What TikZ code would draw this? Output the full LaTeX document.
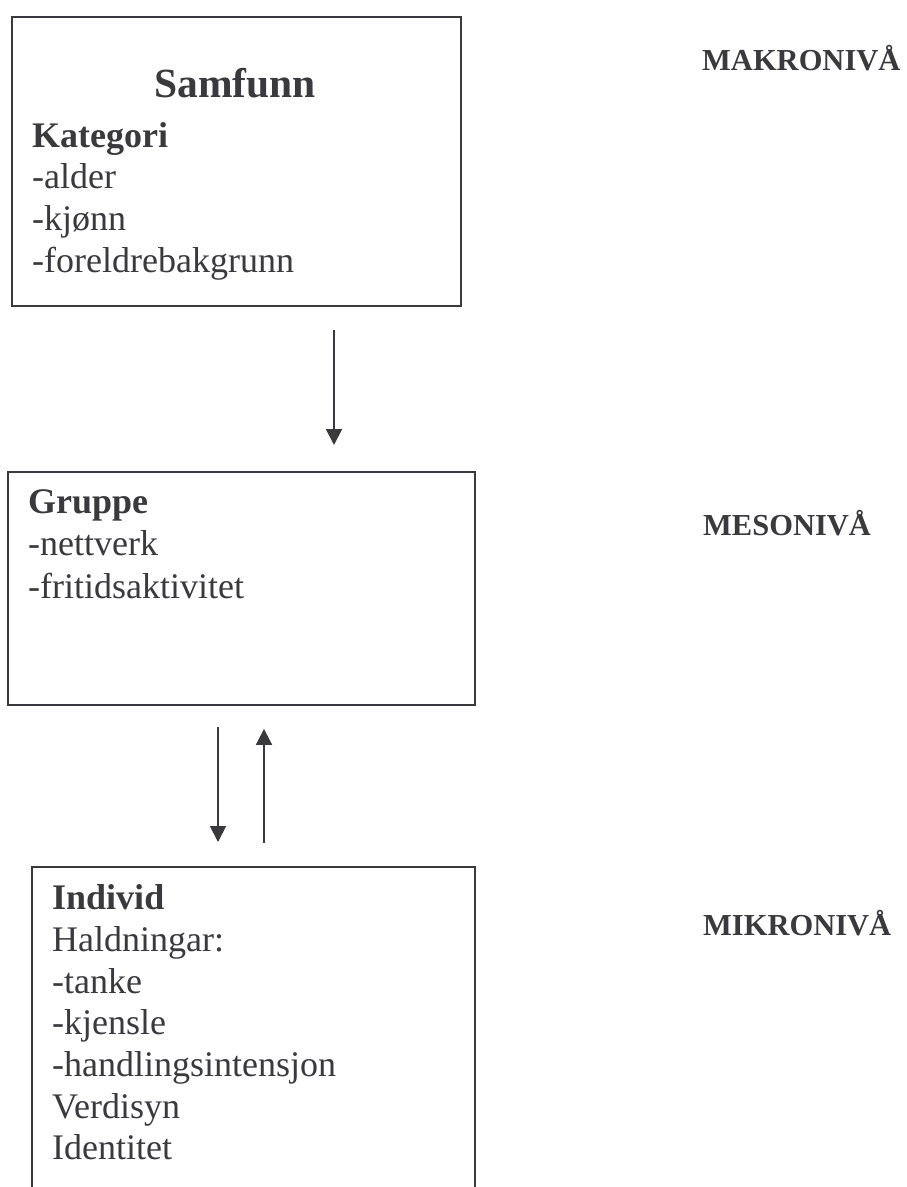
\documentclass[tikz,border=0pt]{standalone}
\usepackage{fontspec}
\setmainfont{Liberation Serif}
\usetikzlibrary{arrows.meta,calc}
\definecolor{ink}{RGB}{58,58,62}
\begin{document}
\begin{tikzpicture}[x=1pt,y=-1pt,
  levelbox/.style={draw=ink,line width=1.9pt,inner sep=0pt,anchor=north west},
  txt/.style={inner sep=0pt,anchor=base west,text=ink,font=\fontsize{36}{40}\selectfont},
  head/.style={txt,font=\fontsize{36}{40}\selectfont\bfseries},
  title/.style={inner sep=0pt,anchor=base,text=ink,font=\fontsize{41.5}{46}\selectfont\bfseries},
  level/.style={inner sep=0pt,anchor=base west,text=ink,font=\fontsize{30.5}{34}\selectfont\bfseries},
  arr/.style={draw=ink,line width=1.8pt,-{Triangle[length=16pt,width=16pt]}}]
\useasboundingbox[fill=white] (0,0) rectangle (907,1187);

% the three levels
\node[levelbox,minimum width=449pt,minimum height=289pt] (samfunn) at (11,16) {};
\node[levelbox,minimum width=467pt,minimum height=233pt] (gruppe) at (7,471) {};
\node[levelbox,minimum width=443pt,minimum height=360pt] (individ) at (31,866) {};

% society box
\node[title] (t1) at (235,97) {Samfunn};
\node[head] (k1) at (32,147) {Kategori};
\node[txt] (k2) at (32,188) {-alder};
\node[txt] (k3) at (32,230) {-kjønn};
\node[txt] (k4) at (32,272) {-foreldrebakgrunn};

% group box
\node[head] (g1) at (28,513) {Gruppe};
\node[txt] (g2) at (28,555) {-nettverk};
\node[txt] (g3) at (28,598) {-fritidsaktivitet};

% individual box
\node[head] (i1) at (52,909) {Individ};
\node[txt] (i2) at (52,951) {Haldningar:};
\node[txt] (i3) at (52,993) {-tanke};
\node[txt] (i4) at (52,1034) {-kjensle};
\node[txt] (i5) at (52,1076) {-handlingsintensjon};
\node[txt] (i6) at (52,1118) {Verdisyn};
\node[txt] (i7) at (52,1159) {Identitet};

% level labels
\node[level] (makro) at (702,70) {MAKRONIVÅ};
\node[level] (meso) at (703,535) {MESONIVÅ};
\node[level] (mikro) at (703,935) {MIKRONIVÅ};

% connectors
\coordinate (c1) at (334,0);
\coordinate (c2) at (218,0);
\coordinate (c3) at (264,0);
\draw[arr,shorten <=23pt,shorten >=26pt] (samfunn.south -| c1) -- (gruppe.north -| c1);
\draw[arr,shorten <=21pt,shorten >=24pt] (gruppe.south -| c2) -- (individ.north -| c2);
\draw[arr,shorten <=23pt,shorten >=23pt] (individ.north -| c3) -- (gruppe.south -| c3);
\end{tikzpicture}
\end{document}
